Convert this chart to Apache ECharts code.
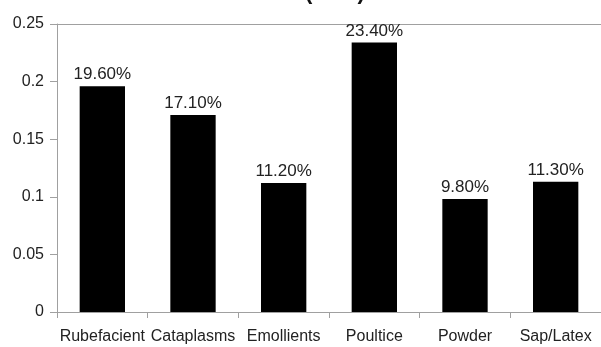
<!DOCTYPE html>
<html><head><meta charset="utf-8">
<script src="https://cdn.jsdelivr.net/npm/echarts@6/dist/echarts.min.js"></script>
<style>html,body{margin:0;padding:0;background:#fff}#c{width:601px;height:347px}</style>
</head><body><div id="c"></div>
<script>
const categories = ['Rubefacient','Cataplasms','Emollients','Poultice','Powder','Sap/Latex'];
const values = [0.196, 0.171, 0.112, 0.234, 0.098, 0.113];
const valueLabels = ['19.60%','17.10%','11.20%','23.40%','9.80%','11.30%'];
const titleText = '(in %)';
const FONT = '"Liberation Sans", Arial, sans-serif';

const chart = echarts.init(document.getElementById('c'), null, {renderer:'canvas'});
chart.setOption({
  animation: false,
  backgroundColor: '#fff',
  graphic: [{
    type: 'text', x: 335, y: 4, silent: true,
    style: {text: titleText, font: 'bold 22px "Liberation Sans", Arial, sans-serif', fill: '#111',
            textAlign: 'center', textVerticalAlign: 'bottom'}
  }],
  grid: {left: 57, right: -12, top: 24, bottom: 35, containLabel: false},
  xAxis: {
    type: 'category', data: categories,
    axisLine: {lineStyle: {color: '#a0a0a0', width: 1}},
    axisTick: {show: true, length: 6, alignWithLabel: false, lineStyle: {color: '#a0a0a0'}},
    axisLabel: {interval: 0, margin: 17, fontFamily: FONT, fontSize: 16, color: '#222'}
  },
  yAxis: {
    type: 'value', min: 0, max: 0.25, interval: 0.05,
    axisLine: {show: true, lineStyle: {color: '#a0a0a0', width: 1}},
    axisTick: {show: true, length: 7, lineStyle: {color: '#a0a0a0'}},
    axisLabel: {margin: 13, fontFamily: FONT, fontSize: 16, color: '#222'},
    splitLine: {show: true, lineStyle: {color: ['transparent','transparent','transparent','transparent','transparent','#a0a0a0'], width: 1}}
  },
  series: [{
    type: 'bar', data: values, barWidth: '50%',
    itemStyle: {color: '#000'},
    label: {
      show: true, position: 'top', distance: 3,
      formatter: p => valueLabels[p.dataIndex],
      fontFamily: FONT, fontSize: 17, color: '#222'
    }
  }]
});
</script></body></html>
